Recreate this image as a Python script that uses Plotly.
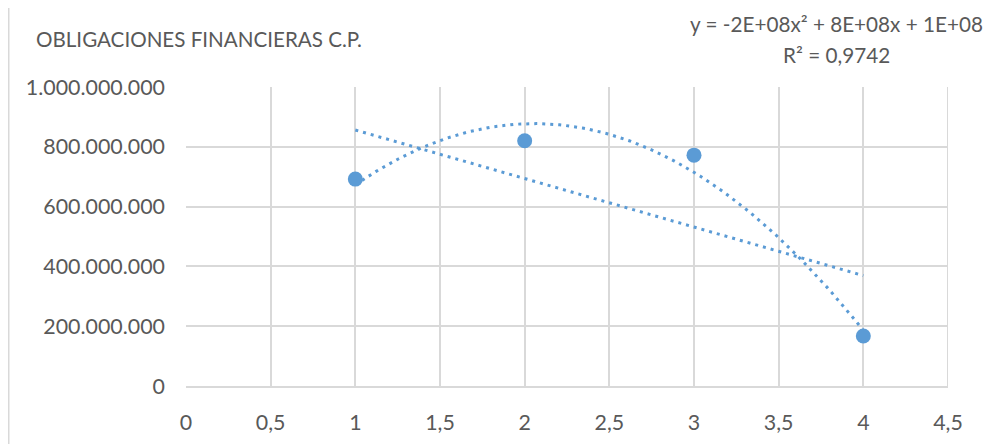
import numpy as np
import plotly.graph_objects as go

# Data
x_vals = [1, 2, 3, 4]
y_vals = [692_000_000, 820_000_000, 772_000_000, 167_000_000]
title_text = "OBLIGACIONES FINANCIERAS C.P."
eq_text = "y = -2E+08x² + 8E+08x + 1E+08"
r2_text = "R² = 0,9742"
x_ticks = [0, 0.5, 1, 1.5, 2, 2.5, 3, 3.5, 4, 4.5]
x_ticklabels = ["0", "0,5", "1", "1,5", "2", "2,5", "3", "3,5", "4", "4,5"]
y_ticks = [0, 200_000_000, 400_000_000, 600_000_000, 800_000_000, 1_000_000_000]
y_ticklabels = ["0", "200.000.000", "400.000.000", "600.000.000", "800.000.000", "1.000.000.000"]

BLUE = "#5B9BD5"
GRID = "#D9D9D9"
TXT = "#595959"
FONT = "Lato, 'Open Sans', sans-serif"

# Trendlines fitted from the data
xs = np.linspace(min(x_vals), max(x_vals), 200)
lin = np.polyval(np.polyfit(x_vals, y_vals, 1), xs)
quad = np.polyval(np.polyfit(x_vals, y_vals, 2), xs)

fig = go.Figure()
fig.add_trace(go.Scatter(x=xs, y=lin, mode="lines",
                         line=dict(color=BLUE, width=3, dash="3px,5px"), hoverinfo="skip"))
fig.add_trace(go.Scatter(x=xs, y=quad, mode="lines",
                         line=dict(color=BLUE, width=3, dash="3px,5px"), hoverinfo="skip"))
fig.add_trace(go.Scatter(x=x_vals, y=y_vals, mode="markers",
                         marker=dict(color=BLUE, size=15)))

# page has an 8px body margin; figure coordinates = page coordinates - 8
OFF = 8
W, H = 992 - OFF, 444 - OFF
L, R, T, B = 186 - OFF, 44, 87 - OFF, 58
pw, ph = W - L - R, H - T - B

def px(xp):
    return (xp - OFF - L) / pw

def py(yp):
    return (H - B - (yp - OFF)) / ph

fig.update_layout(
    width=W, height=H,
    margin=dict(l=L, r=R, t=T, b=B, autoexpand=False),
    paper_bgcolor="white", plot_bgcolor="white",
    showlegend=False,
    font=dict(family=FONT, color=TXT, size=21),
    xaxis=dict(range=[0, 4.5], tickvals=x_ticks, ticktext=x_ticklabels,
               showgrid=True, gridcolor=GRID, gridwidth=2, automargin=False,
               zeroline=False, showline=True, linecolor=GRID, linewidth=2,
               ticks="", ticklabelstandoff=16, tickfont=dict(size=21.4, color=TXT)),
    yaxis=dict(range=[0, 1_000_000_000], tickvals=y_ticks, ticktext=y_ticklabels,
               showgrid=True, gridcolor=GRID, gridwidth=2, automargin=False,
               zeroline=False, showline=False,
               ticks="", ticklabelstandoff=20, tickfont=dict(size=21.4, color=TXT)),
    shapes=[
        dict(type="rect", xref="paper", yref="paper",
             x0=px(8.5), x1=px(989), y0=py(450), y1=py(4),
             line=dict(color=GRID, width=2), fillcolor="rgba(0,0,0,0)", layer="below"),
        dict(type="line", xref="x", yref="paper", x0=4.5, x1=4.5, y0=0, y1=1,
             line=dict(color=GRID, width=2), layer="below"),
    ],
    annotations=[
        dict(text=title_text, xref="paper", yref="paper", x=px(34), y=py(39),
             xanchor="left", yanchor="middle", showarrow=False,
             font=dict(size=20.6, color=TXT, family=FONT)),
        dict(text=eq_text, xref="paper", yref="paper", x=px(836), y=py(24),
             xanchor="center", yanchor="middle", showarrow=False,
             font=dict(size=20.7, color=TXT, family=FONT)),
        dict(text=r2_text, xref="paper", yref="paper", x=px(836), y=py(55),
             xanchor="center", yanchor="middle", showarrow=False,
             font=dict(size=20.7, color=TXT, family=FONT)),
    ],
)

fig.write_html("out.html")
